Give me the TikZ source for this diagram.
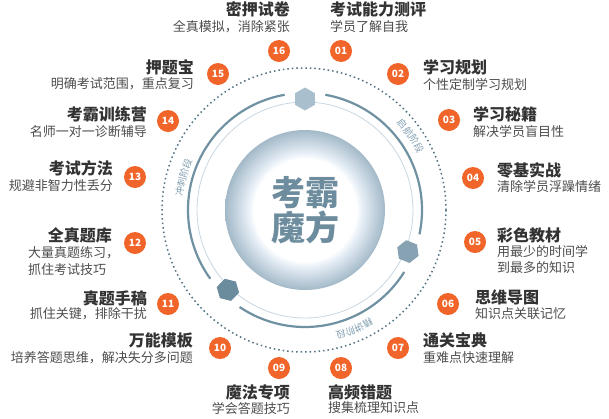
\documentclass[tikz,border=0pt]{standalone}
\usepackage{fontspec}
\setmainfont{Noto Sans CJK SC}
\usetikzlibrary{shapes.geometric,decorations.text}
\definecolor{badgeC}{HTML}{F1652B}
\definecolor{titleC}{HTML}{333333}
\definecolor{descC}{HTML}{4D4D4D}
\definecolor{dotC}{HTML}{4F7384}
\definecolor{ringC}{HTML}{6F91A2}
\definecolor{thinC}{HTML}{C8D7E1}
\definecolor{hexA}{HTML}{A9BFCD}
\definecolor{hexB}{HTML}{87A3B3}
\definecolor{hexC}{HTML}{6A8C9D}
\definecolor{centerC}{HTML}{6D8D9E}
\definecolor{stageC}{HTML}{819EB1}
\definecolor{orbMid}{HTML}{E6EEF6}
\definecolor{orbEdge}{HTML}{A3B9C8}
\newcommand{\stagefnt}{\fontsize{9.5}{9.5}\selectfont\color{stageC}}
\pgfdeclareradialshading{orbshade}{\pgfpoint{0bp}{0bp}}{color(0bp)=(white); color(16bp)=(white); color(18bp)=(orbMid); color(25bp)=(orbEdge); color(50bp)=(orbEdge)}
\tikzset{
 badge/.style={circle, fill=badgeC, text=white, minimum size=22pt, inner sep=0pt, font=\fontsize{10}{10}\selectfont\bfseries},
 ttl/.style={inner sep=0pt, text=titleC, font=\fontsize{16}{18}\selectfont\bfseries},
 dsc/.style={inner sep=0pt, text=descC, font=\fontsize{13}{15}\selectfont},
 hexa/.style={regular polygon, regular polygon sides=6, minimum size=23pt, inner sep=0pt},
 stagetext/.style={decorate, decoration={text along path, text align=center, text={|\stagefnt|#1}}},
 thickring/.style={draw=ringC, line width=2.2pt},
 thinring/.style={draw=thinC, line width=0.8pt},
 dotring/.style={draw=dotC, line width=1.5pt, dash pattern=on 1.5pt off 3pt},
}
\begin{document}
\begin{tikzpicture}[x=1pt,y=-1pt]
\useasboundingbox (0,0) rectangle (609,418);
\fill[white] (0,0) rectangle (609,418);
\begin{scope}[shift={(305,210)}]
 \draw[dotring] (-1,0) circle[radius=142];
 \draw[thinring] (0,0) circle[radius=108];
 \draw[thickring] (-100:117) arc[start angle=-100, end angle=-216, radius=117];
 \draw[thickring] (-236:117) arc[start angle=-236, end angle=-328, radius=117];
 \draw[thickring] (12:117) arc[start angle=12, end angle=-80, radius=117];
 \node[hexa, fill=hexA, shape border rotate=90] (hexTop) at (-90:111) {};
 \node[hexa, fill=hexB, shape border rotate=-22] (hexRight) at (22:111) {};
 \node[hexa, fill=hexC, shape border rotate=226] (hexLeft) at (-226:111) {};
 \node[circle, minimum size=160pt, inner sep=0pt, shade, shading=orbshade] (orb) at (0,0) {};
 \node[font=\fontsize{34}{35}\selectfont\bfseries, text=centerC, align=center, inner sep=0pt] (ctr) at (0,0.5) {考霸\\魔方};
 % stage labels along the ring
 \path[stagetext={启航阶段}] (-55:126) arc[start angle=-55, end angle=-15, radius=126];
 \path[stagetext={冲刺阶段}] (-185:123) arc[start angle=-185, end angle=-145, radius=123];
 \path[stagetext={精讲阶段}] (47.5:126) arc[start angle=47.5, end angle=87.5, radius=126];
\end{scope}
% badges
\node[badge] (b01) at (341,51) {01};
\node[badge] (b02) at (398,74) {02};
\node[badge] (b03) at (449,120) {03};
\node[badge] (b04) at (473,178) {04};
\node[badge] (b05) at (475,242) {05};
\node[badge] (b06) at (448,304) {06};
\node[badge] (b07) at (398,348) {07};
\node[badge] (b08) at (341,368) {08};
\node[badge] (b09) at (279,368) {09};
\node[badge] (b10) at (220,348) {10};
\node[badge] (b11) at (168,304) {11};
\node[badge] (b12) at (135,243) {12};
\node[badge] (b13) at (135,177) {13};
\node[badge] (b14) at (168,121) {14};
\node[badge] (b15) at (218,74) {15};
\node[badge] (b16) at (279,51) {16};
% right side labels
\node[ttl, anchor=west] (t01) at (330,9) {考试能力测评};
\node[dsc, anchor=west] (d01) at (330,27) {学员了解自我};
\node[ttl, anchor=west] (t02) at (423,67) {学习规划};
\node[dsc, anchor=west] (d02) at (423,85) {个性定制学习规划};
\node[ttl, anchor=west] (t03) at (473,114) {学习秘籍};
\node[dsc, anchor=west] (d03) at (473,132) {解决学员盲目性};
\node[ttl, anchor=west] (t04) at (497,170) {零基实战};
\node[dsc, anchor=west] (d04) at (497,187) {清除学员浮躁情绪};
\node[ttl, anchor=west] (t05) at (497,235) {彩色教材};
\node[dsc, anchor=west] (d05a) at (497,252) {用最少的时间学};
\node[dsc, anchor=west] (d05b) at (497,268) {到最多的知识};
\node[ttl, anchor=west] (t06) at (475,297) {思维导图};
\node[dsc, anchor=west] (d06) at (475,314) {知识点关联记忆};
\node[ttl, anchor=west] (t07) at (423,340) {通关宝典};
\node[dsc, anchor=west] (d07) at (423,358) {重难点快速理解};
\node[ttl, anchor=west] (t08) at (328,392) {高频错题};
\node[dsc, anchor=west] (d08) at (328,408) {搜集梳理知识点};
% left side labels
\node[ttl, anchor=east] (t09) at (290,392) {魔法专项};
\node[dsc, anchor=east] (d09) at (290,408) {学会答题技巧};
\node[ttl, anchor=east] (t10) at (193,340) {万能模板};
\node[dsc, anchor=east] (d10) at (193,358) {培养答题思维，解决失分多问题};
\node[ttl, anchor=east] (t11) at (147,298) {真题手稿};
\node[dsc, anchor=east] (d11) at (147,314) {抓住关键，排除干扰};
\node[ttl, anchor=east] (t12) at (112,235) {全真题库};
\node[dsc, anchor=west] (d12a) at (28,253) {大量真题练习，};
\node[dsc, anchor=west] (d12b) at (28,270) {抓住考试技巧};
\node[ttl, anchor=east] (t13) at (113,168) {考试方法};
\node[dsc, anchor=east] (d13) at (113,186) {规避非智力性丢分};
\node[ttl, anchor=east] (t14) at (147,114) {考霸训练营};
\node[dsc, anchor=east] (d14) at (147,132) {名师一对一诊断辅导};
\node[ttl, anchor=east] (t15) at (194,67) {押题宝};
\node[dsc, anchor=east] (d15) at (194,84) {明确考试范围，重点复习};
\node[ttl, anchor=east] (t16) at (290,9) {密押试卷};
\node[dsc, anchor=east] (d16) at (290,27) {全真模拟，消除紧张};
\end{tikzpicture}
\end{document}
